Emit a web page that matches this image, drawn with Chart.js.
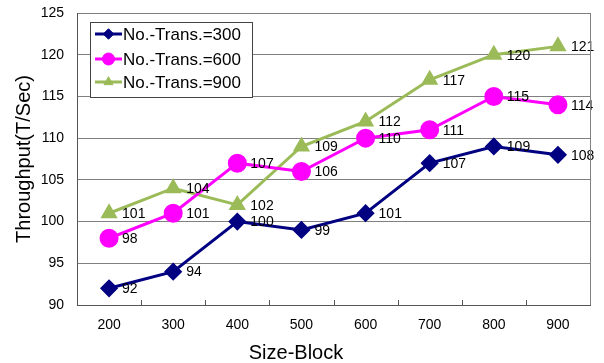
<!DOCTYPE html>
<html>
<head>
<meta charset="utf-8">
<script src="https://cdn.jsdelivr.net/npm/chart.js@4/dist/chart.umd.min.js"></script>
<style>
  html, body { margin: 0; padding: 0; background: #fff; }
  #wrap { width: 604px; height: 363px; }
</style>
</head>
<body>
<div id="wrap"><canvas id="c" width="604" height="363"></canvas></div>
<script>
// data
const sizeBlocks = ['200','300','400','500','600','700','800','900'];
const trans300 = [92, 94, 100, 99, 101, 107, 109, 108];
const trans600 = [98, 101, 107, 106, 110, 111, 115, 114];
const trans900 = [101, 104, 102, 109, 112, 117, 120, 121];
const seriesNames = ['No.-Trans.=300', 'No.-Trans.=600', 'No.-Trans.=900'];
const yTicks = [90, 95, 100, 105, 110, 115, 120, 125];
const xTitle = 'Size-Block';
const yTitle = 'Throughput(T/Sec)';

const FONT = '"Liberation Sans", Arial, sans-serif';

// value labels next to each point
const valueLabels = {
  id: 'valueLabels',
  afterDatasetsDraw(chart) {
    const ctx = chart.ctx;
    ctx.save();
    ctx.font = '14px ' + FONT;
    ctx.fillStyle = '#000';
    ctx.textAlign = 'left';
    ctx.textBaseline = 'middle';
    chart.data.datasets.forEach((ds, i) => {
      chart.getDatasetMeta(i).data.forEach((pt, j) => {
        ctx.fillText(String(ds.data[j]), pt.x + 13, pt.y + 1);
      });
    });
    ctx.restore();
  }
};

// frame, inward x ticks, x title and the boxed legend
const frame = {
  id: 'frame',
  afterDraw(chart) {
    const ctx = chart.ctx, a = chart.chartArea, xs = chart.scales.x;
    ctx.save();
    ctx.strokeStyle = '#808080';
    ctx.lineWidth = 1;
    ctx.beginPath();
    ctx.moveTo(a.right + 0.5, a.top);
    ctx.lineTo(a.right + 0.5, a.bottom);
    ctx.stroke();
    // tick marks between categories
    ctx.strokeStyle = '#555';
    for (let i = 0; i < sizeBlocks.length - 1; i++) {
      const x = Math.round((xs.getPixelForTick(i) + xs.getPixelForTick(i + 1)) / 2) + 0.5;
      ctx.beginPath();
      ctx.moveTo(x, a.bottom);
      ctx.lineTo(x, a.bottom - 5);
      ctx.stroke();
    }
    // x axis title (sits left of the plot centre in the original)
    ctx.fillStyle = '#000';
    ctx.font = '20px ' + FONT;
    ctx.textAlign = 'center';
    ctx.textBaseline = 'middle';
    ctx.fillText(xTitle, 296, 353);
    // legend
    const bx = 90.5, by = 22.5, bw = 162, bh = 75;
    ctx.fillStyle = '#fff';
    ctx.fillRect(bx, by, bw, bh);
    ctx.strokeStyle = '#444';
    ctx.lineWidth = 1;
    ctx.strokeRect(bx, by, bw, bh);
    const rows = [34, 59, 82];
    chart.data.datasets.forEach((ds, i) => {
      const y = rows[i];
      ctx.strokeStyle = ds.borderColor;
      ctx.lineWidth = 3;
      ctx.beginPath();
      ctx.moveTo(95, y);
      ctx.lineTo(122, y);
      ctx.stroke();
      ctx.fillStyle = ds.borderColor;
      ctx.lineWidth = 1;
      Chart.helpers.drawPoint(ctx, {
        pointStyle: ds.pointStyle,
        radius: ds.pointRadius * 0.75,
        borderWidth: 1
      }, 108.5, y);
      ctx.fillStyle = '#000';
      ctx.font = '17px ' + FONT;
      ctx.textAlign = 'left';
      ctx.textBaseline = 'middle';
      ctx.fillText(ds.label, 123, y + 1);
    });
    ctx.restore();
  }
};

function series(label, data, color, style, r) {
  return {
    label, data,
    borderColor: color, backgroundColor: color,
    pointBackgroundColor: color, pointBorderColor: color,
    borderWidth: 3, pointStyle: style, pointRadius: r, pointHoverRadius: r,
    tension: 0
  };
}

new Chart(document.getElementById('c'), {
  type: 'line',
  data: {
    labels: sizeBlocks,
    datasets: [
      series(seriesNames[0], trans300, '#000080', 'rectRot', 7),
      series(seriesNames[1], trans600, '#ff00ff', 'circle', 8),
      series(seriesNames[2], trans900, '#9bbb59', 'triangle', 7)
    ]
  },
  options: {
    responsive: false,
    animation: false,
    layout: { padding: { left: 0, right: 14, top: 13, bottom: 0 } },
    plugins: { legend: { display: false }, tooltip: { enabled: false } },
    scales: {
      x: {
        offset: true,
        grid: { display: false },
        border: { display: true, color: '#555', width: 1 },
        ticks: { color: '#000', font: { family: FONT, size: 14 }, padding: 4 },
        afterFit: s => { s.height = 58; s.paddingLeft = 0; s.paddingRight = 0; }
      },
      y: {
        min: yTicks[0], max: yTicks[yTicks.length - 1],
        afterBuildTicks: s => { s.ticks = yTicks.map(v => ({ value: v })); },
        grid: { color: '#808080', drawTicks: false },
        border: { display: true, color: '#555', width: 1 },
        ticks: { color: '#000', font: { family: FONT, size: 14 }, padding: 13 },
        title: { display: true, text: yTitle, color: '#000', font: { family: FONT, size: 20 }, padding: { top: 12, bottom: 0 } },
        afterFit: s => { s.width = 77; s.paddingTop = 0; s.paddingBottom = 0; }
      }
    }
  },
  plugins: [valueLabels, frame]
});
</script>
</body>
</html>
